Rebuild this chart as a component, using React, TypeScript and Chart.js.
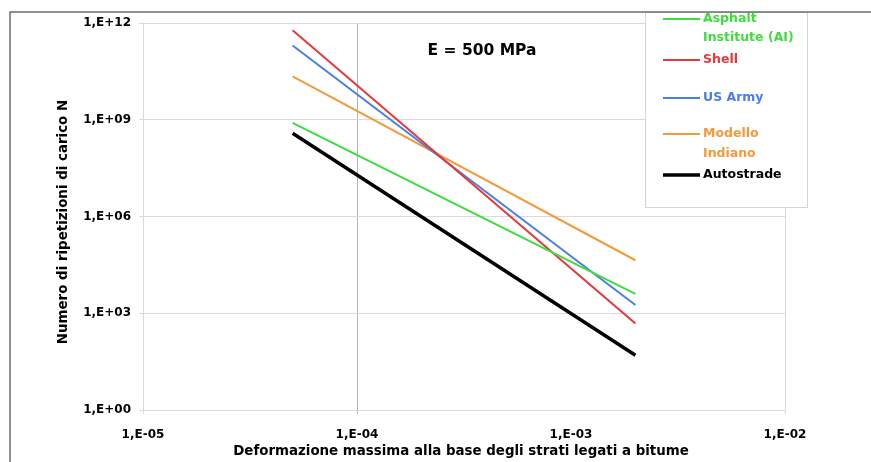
import React, { useEffect, useRef } from "react";
import { Chart, registerables } from "chart.js";

Chart.register(...registerables);

// ---- data ----
const strainPoints = [5e-5, 2e-3];
const asphaltInstitute = [8.0e8, 4.0e3];
const shell = [6.0e11, 4.8e2];
const usArmy = [2.0e11, 1.8e3];
const modelloIndiano = [2.2e10, 4.4e4];
const autostrade = [3.8e8, 5.0e1];

const seriesValues = [asphaltInstitute, shell, usArmy, modelloIndiano, autostrade];
const seriesNames = [["Asphalt", "Institute (AI)"], ["Shell"], ["US Army"], ["Modello", "Indiano"], ["Autostrade"]];
const seriesColors = ["#3fdc3f", "#e5383b", "#4a7ee3", "#f39a3a", "#000000"];
const seriesWidths = [2, 2, 2, 2, 3.5];

const xTickValues = [1e-5, 1e-4, 1e-3, 1e-2];
const yTickValues = [1, 1e3, 1e6, 1e9, 1e12];

const chartTitle = "E = 500 MPa";
const xTitle = "Deformazione massima alla base degli strati legati a bitume";
const yTitle = "Numero di ripetizioni di carico N";

const FONT = "DejaVu Sans";

function sciLabel(v: number): string {
  const e = Math.round(Math.log10(v));
  const sign = e < 0 ? "-" : "+";
  const a = Math.abs(e);
  return "1,E" + sign + (a < 10 ? "0" + a : String(a));
}

const decorPlugin = {
  id: "decor",
  beforeDraw(chart: any) {
    const ctx = chart.ctx;
    ctx.save();
    ctx.fillStyle = "#ffffff";
    ctx.fillRect(0, 0, chart.width, chart.height);
    ctx.restore();
  },
  afterDraw(chart: any) {
    const ctx = chart.ctx;
    ctx.save();
    // chart title
    ctx.fillStyle = "#000";
    ctx.font = `bold 15.5px "${FONT}"`;
    ctx.textAlign = "center";
    ctx.textBaseline = "middle";
    ctx.fillText(chartTitle, 482, 51);

    // axis titles
    ctx.font = `bold 13.4px "${FONT}"`;
    ctx.fillText(xTitle, 461, 452);
    ctx.save();
    ctx.translate(64, 222);
    ctx.rotate(-Math.PI / 2);
    ctx.fillText(yTitle, 0, 0);
    ctx.restore();

    // legend box
    ctx.fillStyle = "#ffffff";
    ctx.fillRect(645.5, 12.5, 162, 195);
    ctx.strokeStyle = "#d4d4d4";
    ctx.lineWidth = 1;
    ctx.strokeRect(645.5, 12.5, 162, 195);
    const rowsY = [[19, 38], [60], [98], [134, 154], [175]];
    ctx.textAlign = "left";
    ctx.textBaseline = "middle";
    seriesNames.forEach((lines, i) => {
      const ys = rowsY[i];
      ctx.strokeStyle = seriesColors[i];
      ctx.lineWidth = seriesWidths[i];
      ctx.beginPath();
      ctx.moveTo(663, ys[0]);
      ctx.lineTo(700, ys[0]);
      ctx.stroke();
      ctx.fillStyle = seriesColors[i];
      ctx.font = `bold 12.5px "${FONT}"`;
      lines.forEach((t, j) => ctx.fillText(t, 703, ys[j]));
    });

    // outer frame
    ctx.strokeStyle = "#6e6e6e";
    ctx.lineWidth = 1.5;
    ctx.beginPath();
    ctx.moveTo(10, chart.height);
    ctx.lineTo(10, 12);
    ctx.lineTo(chart.width, 12);
    ctx.stroke();
    ctx.restore();
  },
};

export default function App() {
  const canvasRef = useRef<HTMLCanvasElement | null>(null);

  useEffect(() => {
    const canvas = canvasRef.current;
    if (!canvas) return;
    const datasets = seriesValues.map((vals, i) => ({
      label: seriesNames[i].join(" "),
      data: vals.map((v, k) => ({ x: strainPoints[k], y: v })),
      borderColor: seriesColors[i],
      backgroundColor: seriesColors[i],
      borderWidth: seriesWidths[i],
      pointRadius: 0,
      tension: 0,
      fill: false,
    }));
    const chart = new Chart(canvas, {
      type: "line",
      data: { datasets },
      plugins: [decorPlugin],
      options: {
        animation: false,
        responsive: false,
        devicePixelRatio: 1,
        layout: { padding: { left: 0, top: 23, right: 86, bottom: 0 } },
        plugins: { legend: { display: false }, tooltip: { enabled: false }, title: { display: false } },
        scales: {
          x: {
            type: "logarithmic",
            min: 1e-5,
            max: 1e-2,
            afterBuildTicks: (scale: any) => {
              scale.ticks = xTickValues.map((v) => ({ value: v }));
            },
            afterFit: (scale: any) => {
              scale.height = 52;
            },
            grid: {
              drawTicks: true,
              tickLength: 4,
              color: (ctx: any) => {
                const e = Math.round(Math.log10(ctx.tick ? ctx.tick.value : 1));
                if (e === -4) return "#b4b4b4";
                if (e === -3) return "rgba(0,0,0,0)";
                return "#dadada";
              },
            },
            border: { display: true, color: "#dadada" },
            ticks: {
              autoSkip: false,
              maxRotation: 0,
              padding: 14,
              color: "#000",
              font: { family: FONT, weight: "bold", size: 12 },
              callback: (v: any) => sciLabel(Number(v)),
            },
          },
          y: {
            type: "logarithmic",
            min: 1,
            max: 1e12,
            afterBuildTicks: (scale: any) => {
              scale.ticks = yTickValues.map((v) => ({ value: v }));
            },
            afterFit: (scale: any) => {
              scale.width = 143;
            },
            grid: { drawTicks: true, tickLength: 4, color: "#dadada" },
            border: { display: true, color: "#dadada" },
            ticks: {
              autoSkip: false,
              padding: 8,
              color: "#000",
              font: { family: FONT, weight: "bold", size: 12 },
              callback: (v: any) => sciLabel(Number(v)),
            },
          },
        },
      } as any,
    });
    return () => chart.destroy();
  }, []);

  return (
    <div style={{ position: "fixed", left: 0, top: 0, width: 871, height: 462, background: "#fff" }}>
      <canvas ref={canvasRef} width={871} height={462} style={{ display: "block" }} />
    </div>
  );
}
